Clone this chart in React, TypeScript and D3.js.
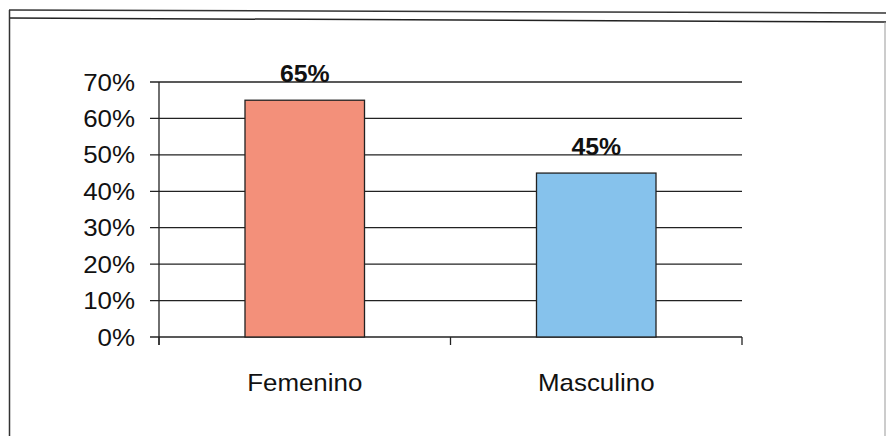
import React from "react";
import * as d3 from "d3";

const categories = ["Femenino", "Masculino"];
const values = [0.65, 0.45];
const valueLabels = ["65%", "45%"];
const barColors = ["#F3907A", "#86C2EC"];
const yTicks = [0, 0.1, 0.2, 0.3, 0.4, 0.5, 0.6, 0.7];

const W = 886;
const H = 436;
const plot = { left: 159, right: 742, top: 82, bottom: 337 };
const FONT = "'Liberation Sans', Arial, sans-serif";
const SX = 1.08;

export default function App() {
  const x = d3
    .scaleBand<string>()
    .domain(categories)
    .range([plot.left, plot.right])
    .paddingInner(0.59)
    .paddingOuter(0.295);
  const y = d3.scaleLinear().domain([0, 0.7]).range([plot.bottom, plot.top]);
  const fmt = d3.format(".0%");
  const step = x.step();
  const catTicks = [plot.left, plot.left + step, plot.left + 2 * step];

  return (
    <svg
      width={W}
      height={H}
      style={{ position: "absolute", left: 0, top: 0, background: "#fff" }}
    >
      {/* frame */}
      <line x1={9} y1={10} x2={886} y2={13} stroke="#333" strokeWidth={1.5} />
      <line x1={9} y1={18} x2={886} y2={22} stroke="#222" strokeWidth={1.5} />
      <line x1={9.5} y1={10} x2={9.5} y2={436} stroke="#333" strokeWidth={1.5} />
      <line x1={885} y1={22} x2={885} y2={436} stroke="#999" strokeWidth={1} />

      {/* gridlines */}
      {yTicks.map((t) => (
        <line
          key={"g" + t}
          x1={plot.left - 9}
          x2={plot.right}
          y1={y(t)}
          y2={y(t)}
          stroke="#222"
          strokeWidth={1.3}
        />
      ))}
      {/* y axis */}
      <line x1={plot.left} x2={plot.left} y1={plot.top} y2={plot.bottom + 8} stroke="#222" strokeWidth={1.3} />
      {catTicks.map((cx, i) => (
        <line key={"ct" + i} x1={cx} x2={cx} y1={plot.bottom} y2={plot.bottom + 8} stroke="#222" strokeWidth={1.3} />
      ))}
      {/* y tick labels */}
      {yTicks.map((t) => (
        <text
          key={"yl" + t}
          transform={`translate(135,${y(t) + 8.5}) scale(${SX},1)`}
          textAnchor="end"
          fontFamily={FONT}
          fontSize={24}
          fill="#111"
        >
          {fmt(t)}
        </text>
      ))}
      {/* bars */}
      {categories.map((c, i) => (
        <rect
          key={"b" + c}
          x={x(c)}
          y={y(values[i])}
          width={x.bandwidth()}
          height={plot.bottom - y(values[i])}
          fill={barColors[i]}
          stroke="#222"
          strokeWidth={1.3}
        />
      ))}
      {/* value labels */}
      {categories.map((c, i) => (
        <text
          key={"v" + c}
          transform={`translate(${(x(c) as number) + x.bandwidth() / 2},${y(values[i]) - 18}) scale(${SX},1)`}
          textAnchor="middle"
          fontFamily={FONT}
          fontSize={23}
          fontWeight="bold"
          fill="#111"
        >
          {valueLabels[i]}
        </text>
      ))}
      {/* category labels */}
      {categories.map((c) => (
        <text
          key={"c" + c}
          transform={`translate(${(x(c) as number) + x.bandwidth() / 2},${391}) scale(${SX},1)`}
          textAnchor="middle"
          fontFamily={FONT}
          fontSize={24}
          fill="#111"
        >
          {c}
        </text>
      ))}
    </svg>
  );
}
